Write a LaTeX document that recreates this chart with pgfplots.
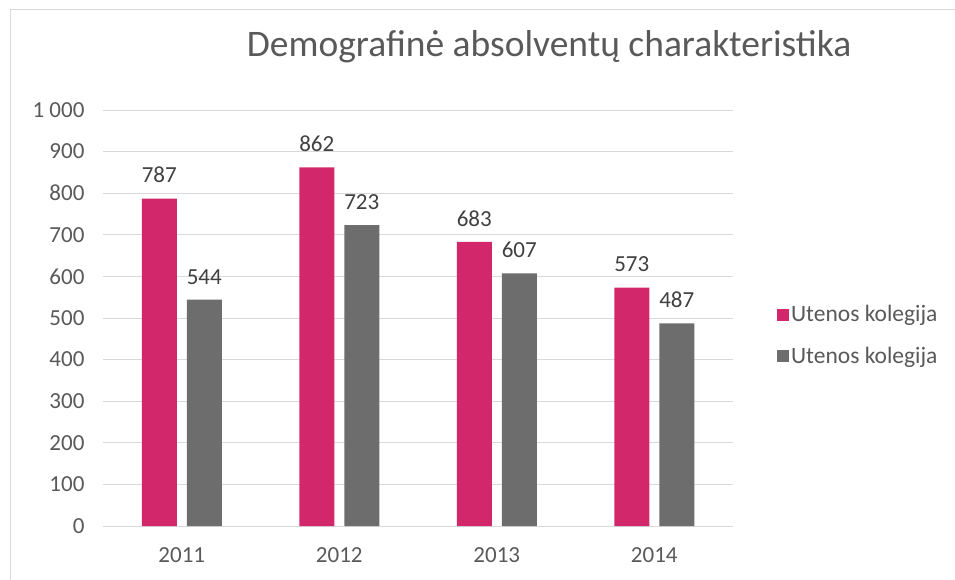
\documentclass[border=0pt]{standalone}
\usepackage{fontspec}
\setmainfont{Carlito}
\usepackage{pgfplots}
\pgfplotsset{compat=1.18}
\definecolor{cpink}{HTML}{D2286B}
\definecolor{cgray}{HTML}{6D6D6D}
\definecolor{ctext}{HTML}{595959}
\definecolor{clab}{HTML}{404040}
\definecolor{cgrid}{HTML}{D9D9D9}
\begin{document}
\begin{tikzpicture}[x=1pt,y=1pt]
\path[use as bounding box] (0,0) rectangle (955,-580);
\draw[cgrid, line width=1pt] (10,-580) -- (10,-10) -- (955,-10);
\node[text=ctext, font=\fontsize{37.5}{42}\selectfont] at (549,-47) {Demografinė absolventų charakteristika};
\begin{axis}[
  at={(103pt,-526pt)}, anchor=south west,
  scale only axis, width=630pt, height=416pt,
  ybar=10pt, bar width=35pt,
  xmin=-0.5, xmax=3.5, ymin=0, ymax=1000,
  xtick={0,1,2,3}, xticklabels={2011,2012,2013,2014},
  ytick={0,100,...,1000},
  /pgf/number format/assume math mode=true,
  /pgf/number format/1000 sep={\ },
  ymajorgrids, grid style={cgrid, line width=1pt},
  axis line style={draw=none},
  major tick length=0pt,
  ticklabel style={text=ctext, font=\fontsize{23}{26}\selectfont},
  yticklabel style={xshift=-15pt},
  xticklabel style={yshift=-18pt},
  nodes near coords,
  every node near coord/.append style={text=clab, font=\fontsize{23}{26}\selectfont, yshift=12pt},
  legend style={at={(1.065,0.458)}, anchor=west, draw=none, fill=none,
    font=\fontsize{23.5}{26}\selectfont, text=ctext, row sep=20pt,
    /tikz/every even column/.append style={column sep=0pt}},
  legend cell align=left,
  legend image code/.code={\fill[#1] (0pt,-6pt) rectangle (12pt,6pt);},
]
\addplot[fill=cpink, draw=none] coordinates {(0,787) (1,862) (2,683) (3,573)};
\addplot[fill=cgray, draw=none] coordinates {(0,544) (1,723) (2,607) (3,487)};
\legend{Utenos kolegija, Utenos kolegija}
\end{axis}
\end{tikzpicture}
\end{document}
